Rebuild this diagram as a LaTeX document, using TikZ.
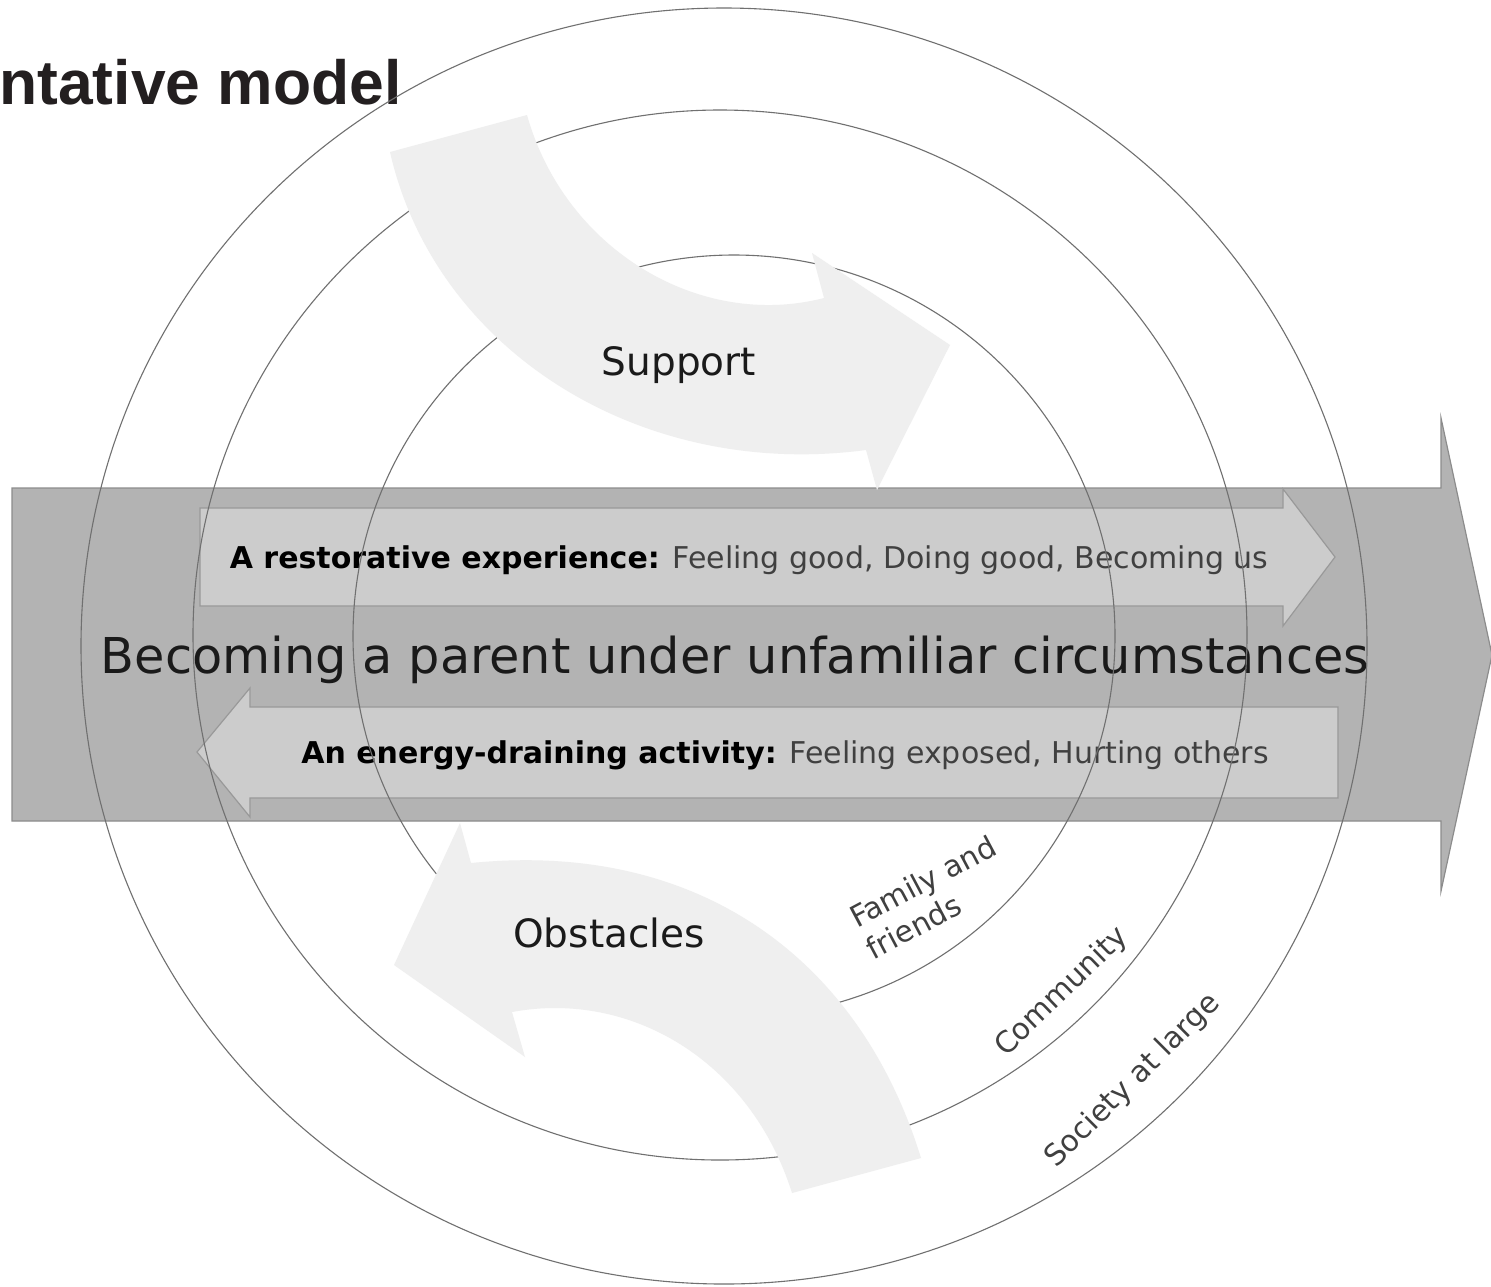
\documentclass[tikz,border=0pt]{standalone}
\usepackage{fontspec}
\setmainfont{DejaVu Sans}
\newfontfamily\titlefont{Liberation Sans}
\definecolor{bigfill}{HTML}{B3B3B3}
\definecolor{bigline}{HTML}{8C8C8C}
\definecolor{smallfill}{HTML}{CCCCCC}
\definecolor{smallline}{HTML}{999999}
\definecolor{curvefill}{HTML}{EFEFEF}
\definecolor{ringline}{HTML}{707070}
\definecolor{txt}{HTML}{1A1A1A}
\definecolor{subtxt}{HTML}{404040}
\definecolor{titlecol}{HTML}{231F20}
\tikzset{
  bigarrow/.style={fill=bigfill, draw=bigline, line width=0.6pt, line join=miter},
  smallarrow/.style={fill=smallfill, draw=smallline, line width=0.6pt},
  ring/.style={draw=ringline, line width=0.55pt},
  curvearrow/.style={fill=curvefill, draw=none},
  maintext/.style={font=\fontsize{24.7}{28}\selectfont, text=txt, inner sep=0pt},
  flowtext/.style={font=\fontsize{15}{17}\selectfont, text=subtxt, inner sep=0pt},
  curvetext/.style={font=\fontsize{19.5}{22}\selectfont, text=txt, inner sep=0pt},
  ringtext/.style={font=\fontsize{14.8}{17.8}\selectfont, text=subtxt, inner sep=0pt},
}
\begin{document}
\begin{tikzpicture}[x=0.5pt,y=-0.5pt]
\useasboundingbox (0,0) rectangle (1491,1286);
\fill[white] (0,0) rectangle (1491,1286);

% title (cut off on the left)
\node[anchor=base east, inner sep=0pt, font=\titlefont\bfseries\fontsize{31.2}{36}\selectfont, text=titlecol] (title) at (402,104) {ntative model};

% big horizontal arrow
\draw[bigarrow] (12,488) -- (1441,488) -- (1441,418) -- (1492,655) -- (1441,891) -- (1441,821) -- (12,821) -- cycle;

% restorative arrow (right)
\draw[smallarrow] (200,508) -- (1283,508) -- (1283,489) -- (1335,557) -- (1283,626) -- (1283,606) -- (200,606) -- cycle;

% energy-draining arrow (left)
\draw[smallarrow] (1338,707) -- (250,707) -- (250,688) -- (197,752) -- (250,817) -- (250,798) -- (1338,798) -- cycle;

\node[maintext, anchor=base] (main) at (735,673) {Becoming a parent under unfamiliar circumstances};
\node[flowtext, anchor=base] (restore) at (749,568) {\textbf{\color{black}A restorative experience:} Feeling good, Doing good, Becoming us};
\node[flowtext, anchor=base] (drain) at (785,763) {\textbf{\color{black}An energy-draining activity:} Feeling exposed, Hurting others};

% rings
\draw[ring] (724,646) ellipse [x radius=321.5pt, y radius=319pt];
\draw[ring] (720,635) ellipse [x radius=263.5pt, y radius=262.5pt];
\draw[ring] (734,636) circle [radius=190.5pt];

% Support curved arrow
\fill[curvearrow] (390,152) -- (527,115)
  .. controls (565,250) and (700,330) .. (824,298)
  -- (812,253) -- (950,345) -- (877,490) -- (866,450)
  .. controls (640,480) and (435,350) .. (390,152)
  -- cycle;

% Obstacles curved arrow
\fill[curvearrow] (792,1193) -- (921,1158)
  .. controls (860,960) and (700,840) .. (471,863)
  -- (460,823) -- (394,965) -- (525,1057) -- (512,1012)
  .. controls (630,990) and (750,1060) .. (792,1193)
  -- cycle;

\node[curvetext, anchor=base] (support) at (679,375) {Support};
\node[curvetext, anchor=base] (obstacles) at (609,947) {Obstacles};

% ring labels
\node[ringtext, rotate=28, align=left] (family) at (931,897) {Family and\\friends};
\node[ringtext, rotate=44] (community) at (1062,992) {Community};
\node[ringtext, rotate=45] (society) at (1133,1081) {Society at large};
\end{tikzpicture}
\end{document}
